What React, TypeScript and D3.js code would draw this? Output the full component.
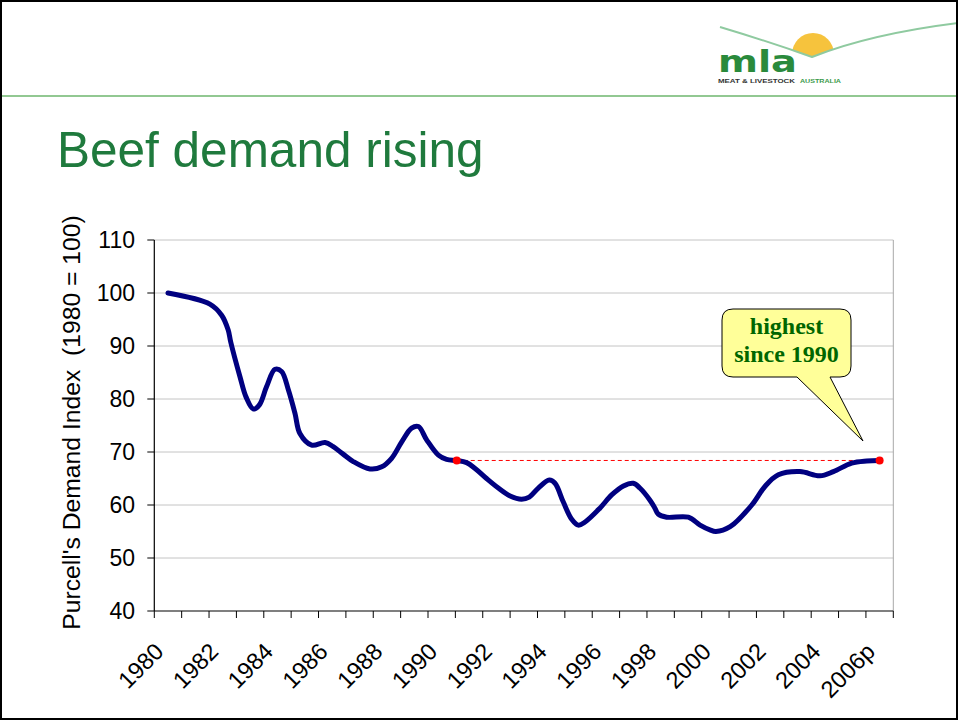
import React from "react";
import * as d3 from "d3";

// ---- data ----
const yTicks = [40, 50, 60, 70, 80, 90, 100, 110];
const xLabelYears = [1980, 1982, 1984, 1986, 1988, 1990, 1992, 1994, 1996, 1998, 2000, 2002, 2004, 2006];
const xLabels = ["1980", "1982", "1984", "1986", "1988", "1990", "1992", "1994", "1996", "1998", "2000", "2002", "2004", "2006p"];
const categoryYears = d3.range(1980, 2007);

const periods = [
  1980.0, 1981.53, 1981.96, 1982.2, 1982.29, 1982.63, 1982.85, 1983.12, 1983.34, 1983.6,
  1983.91, 1984.15, 1984.4, 1984.64, 1984.82, 1985.25, 1985.74, 1986.04, 1986.4, 1986.77,
  1987.38, 1987.81, 1988.17, 1988.54, 1988.9, 1989.15, 1989.45, 1989.88, 1990.18, 1990.55,
  1990.91, 1991.22, 1991.64, 1992.07, 1992.5, 1992.92, 1993.2, 1993.53, 1993.93, 1994.14,
  1994.44, 1994.75, 1994.99, 1995.24, 1995.78, 1996.21, 1996.64, 1997.0, 1997.24, 1997.61,
  1997.79, 1997.91, 1998.22, 1999.01, 1999.44, 1999.8, 2000.02, 2000.54, 2001.33, 2001.81,
  2002.3, 2003.09, 2003.82, 2004.31, 2004.98, 2005.53, 2006.0,
];
const demandIndex = [
  100.0, 97.9, 95.8, 93.0, 90.8, 84.2, 80.4, 78.1, 78.9, 82.3,
  85.6, 85.2, 81.7, 77.3, 73.5, 71.3, 71.8, 71.0, 69.6, 68.2,
  66.8, 67.2, 68.8, 71.9, 74.5, 74.8, 72.3, 69.4, 68.6, 68.4,
  68.0, 66.9, 65.0, 63.2, 61.7, 61.1, 61.5, 63.2, 64.7, 64.1,
  60.6, 57.3, 56.2, 56.8, 59.4, 61.9, 63.6, 64.1, 63.2, 60.9,
  59.4, 58.3, 57.7, 57.7, 56.2, 55.3, 55.0, 55.9, 60.0, 63.5,
  65.7, 66.3, 65.5, 66.3, 67.9, 68.3, 68.4,
];
const refPeriods = [1990.55, 2006.0];
const refValue = 68.4;

const titleText = "Beef demand rising";
const yAxisTitle = "Purcell's Demand Index  (1980 = 100)";
const calloutLines = ["highest", "since 1990"];

export default function App() {
  const W = 958, H = 720;
  const x = d3.scaleLinear().domain([1979.5, 2006.5]).range([154.3, 893.3]);
  const y = d3.scaleLinear().domain([40, 110]).range([611, 240]);
  const pts = periods.map((p, i) => [p, demandIndex[i]] as [number, number]);
  const line = d3
    .line<[number, number]>()
    .x((d) => x(d[0]))
    .y((d) => y(d[1]))
    .curve(d3.curveCatmullRom.alpha(0.5));
  const tickEdges = d3.range(0, categoryYears.length + 1).map((i) => 1979.5 + i);
  const font = "'Liberation Sans', Arial, sans-serif";

  // callout geometry
  const bx = 722, by = 309, bw = 129, bh = 68, r = 11;
  const tipX = 863, tipY = 441;
  const calloutPath =
    `M${bx + r},${by} H${bx + bw - r} Q${bx + bw},${by} ${bx + bw},${by + r} V${by + bh - r} ` +
    `Q${bx + bw},${by + bh} ${bx + bw - r},${by + bh} H830 L${tipX},${tipY} L797,${by + bh} ` +
    `H${bx + r} Q${bx},${by + bh} ${bx},${by + bh - r} V${by + r} Q${bx},${by} ${bx + r},${by} Z`;

  const curveD = "M720,27 Q770,42 812,57 Q870,34 958,23";

  return (
    <svg
      width={W}
      height={H}
      style={{ position: "absolute", left: 0, top: 0, background: "#fff" }}
      xmlns="http://www.w3.org/2000/svg"
    >
      <defs>
        <clipPath id="sunClip">
          <path d="M700,0 L720,0 L720,27 Q770,42 812,57 Q870,34 958,23 L958,0 Z" />
        </clipPath>
      </defs>
      <rect x={0} y={0} width={W} height={H} fill="#fff" />

      {/* logo */}
      <circle cx={813} cy={54} r={21} fill="#f6c33d" clipPath="url(#sunClip)" />
      <path d={curveD} fill="none" stroke="#8fcaa0" strokeWidth={2} />
      <text
        x={718}
        y={71.5}
        fontFamily="'DejaVu Sans', sans-serif"
        fontWeight="bold"
        fontSize={30}
        fill="#2a8a3c"
        textLength={79}
        lengthAdjust="spacingAndGlyphs"
      >
        mla
      </text>
      <text x={718} y={83} fontFamily={font} fontWeight="bold" fontSize={5.5} fill="#333" textLength={77} lengthAdjust="spacingAndGlyphs">
        MEAT &amp; LIVESTOCK
      </text>
      <text x={800} y={83} fontFamily={font} fontWeight="bold" fontSize={5.5} fill="#3a9a4a" textLength={41} lengthAdjust="spacingAndGlyphs">
        AUSTRALIA
      </text>

      {/* separator */}
      <line x1={0} x2={W} y1={96} y2={96} stroke="#92c892" strokeWidth={2} />

      {/* title */}
      <text x={57} y={167} fontFamily={font} fontSize={49.5} fill="#1f7a3d">
        {titleText}
      </text>

      {/* gridlines */}
      {yTicks.filter((t) => t > 40).map((t) => (
        <line key={t} x1={x(1979.5)} x2={x(2006.5)} y1={y(t)} y2={y(t)} stroke="#c4c4c4" strokeWidth={1} />
      ))}
      {/* plot right border */}
      <line x1={x(2006.5)} x2={x(2006.5)} y1={y(110)} y2={y(40)} stroke="#a8a8a8" strokeWidth={1} />

      {/* y axis */}
      <line x1={x(1979.5)} x2={x(1979.5)} y1={y(110)} y2={y(40)} stroke="#000" strokeWidth={1.2} />
      {yTicks.map((t) => (
        <g key={t}>
          <line x1={x(1979.5) - 7} x2={x(1979.5)} y1={y(t)} y2={y(t)} stroke="#000" strokeWidth={1} />
          <text x={135} y={y(t)} dy="0.36em" textAnchor="end" fontFamily={font} fontSize={23} fill="#000">
            {t}
          </text>
        </g>
      ))}

      {/* x axis */}
      <line x1={x(1979.5)} x2={x(2006.5)} y1={y(40)} y2={y(40)} stroke="#000" strokeWidth={1.2} />
      {tickEdges.map((e) => (
        <line key={e} x1={x(e)} x2={x(e)} y1={y(40)} y2={y(40) + 7} stroke="#000" strokeWidth={1} />
      ))}
      {xLabelYears.map((yr, i) => (
        <text
          key={yr}
          transform={`translate(${x(yr) - 3},${653}) rotate(-45)`}
          textAnchor="end"
          fontFamily={font}
          fontSize={23.5}
          fill="#000"
        >
          {xLabels[i]}
        </text>
      ))}

      {/* y axis title */}
      <text
        transform={`translate(80,${(213 + 632) / 2}) rotate(-90)`}
        textAnchor="middle"
        fontFamily={font}
        fontSize={24.7}
        fill="#000"
        style={{ whiteSpace: "pre" }}
      >
        {yAxisTitle}
      </text>

      {/* reference dashed line */}
      <line
        x1={x(refPeriods[0])}
        x2={x(refPeriods[1])}
        y1={y(refValue)}
        y2={y(refValue)}
        stroke="#ff0000"
        strokeWidth={1}
        strokeDasharray="4,3"
      />

      {/* data line */}
      <path d={line(pts) || ""} fill="none" stroke="#000080" strokeWidth={5} strokeLinejoin="round" strokeLinecap="round" />

      {refPeriods.map((p) => (
        <circle key={p} cx={x(p)} cy={y(refValue)} r={4} fill="#ff0000" />
      ))}

      {/* callout */}
      <path d={calloutPath} fill="#ffff99" stroke="#000" strokeWidth={1} />
      {calloutLines.map((l, i) => (
        <text
          key={l}
          x={bx + bw / 2}
          y={334 + i * 28}
          textAnchor="middle"
          fontFamily="'Liberation Serif', 'Times New Roman', serif"
          fontWeight="bold"
          fontSize={24}
          fill="#006600"
        >
          {l}
        </text>
      ))}

      {/* slide border */}
      <rect x={1} y={1} width={W - 2} height={H - 2} fill="none" stroke="#000" strokeWidth={2} />
    </svg>
  );
}
